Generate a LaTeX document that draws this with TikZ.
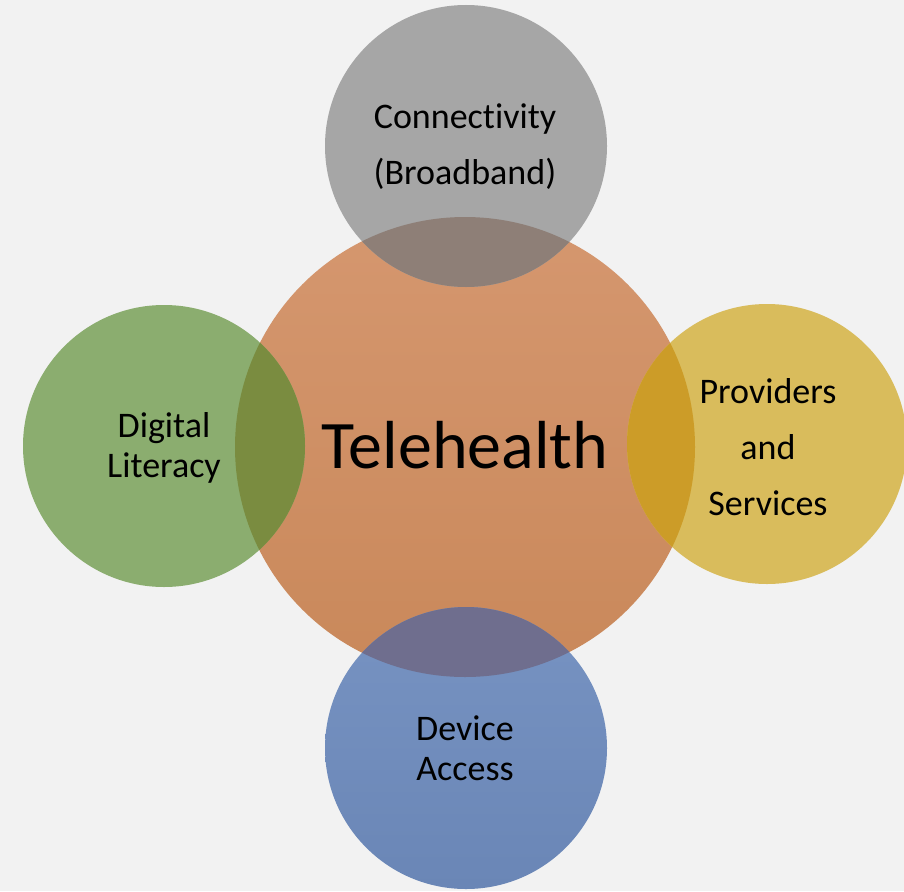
\documentclass[tikz,border=0pt]{standalone}
\usepackage{fontspec}
\setmainfont{Carlito}[Ligatures=NoCommon]
\definecolor{bgcol}{HTML}{F2F2F2}
\definecolor{oranT}{HTML}{D5976F}
\definecolor{oranB}{HTML}{C9885A}
\definecolor{grayc}{HTML}{A6A6A6}
\definecolor{grayov}{HTML}{8E7F77}
\definecolor{greenc}{HTML}{8BAD6F}
\definecolor{greenov}{HTML}{7A8C40}
\definecolor{yellowc}{HTML}{D9BC5C}
\definecolor{yellowov}{HTML}{CC9C28}
\definecolor{blueT}{HTML}{7793C2}
\definecolor{blueB}{HTML}{6A86B6}
\definecolor{blueov}{HTML}{6F6E8E}
\tikzset{
  disc/.style={circle, draw=none, inner sep=0pt, minimum size=#1},
  lbl/.style={align=center, text=black, inner sep=0pt, font=\fontsize{36}{56}\selectfont},
  lbltight/.style={align=center, text=black, inner sep=0pt, font=\fontsize{36}{40}\selectfont},
}
\begin{document}
\begin{tikzpicture}[x=1pt, y=-1pt]
\useasboundingbox (0,0) rectangle (904,891);
\fill[bgcol] (0,0) rectangle (904,891);
% main circle
\node[disc=460pt, top color=oranT, bottom color=oranB] (tele) at (465,447) {};
% satellites
\node[disc=282pt, fill=grayc] (conn) at (466,146) {};
\node[disc=282pt, fill=greenc] (digi) at (164,446) {};
\node[disc=280pt, fill=yellowc] (prov) at (767,444) {};
\node[disc=282pt, top color=blueT, bottom color=blueB] (devi) at (466,748) {};
% overlaps
\begin{scope}
  \clip (tele.center) circle (230pt);
  \fill[grayov] (conn.center) circle (141pt);
  \fill[greenov] (digi.center) circle (141pt);
  \fill[yellowov] (prov.center) circle (140pt);
  \fill[blueov] (devi.center) circle (141pt);
\end{scope}
% labels
\node[align=center, inner sep=0pt, font=\fontsize{68}{80}\selectfont] (ttele) at (465,445) {Telehealth};
\node[lbl] (tconn) at (465,147) {Connectivity\\(Broadband)};
\node[lbltight] (tdigi) at (164,448) {Digital\\Literacy};
\node[lbl] (tprov) at (768,447) {Providers\\and\\Services};
\node[lbltight] (tdevi) at (465,748) {Device\\Access};
\end{tikzpicture}
\end{document}
